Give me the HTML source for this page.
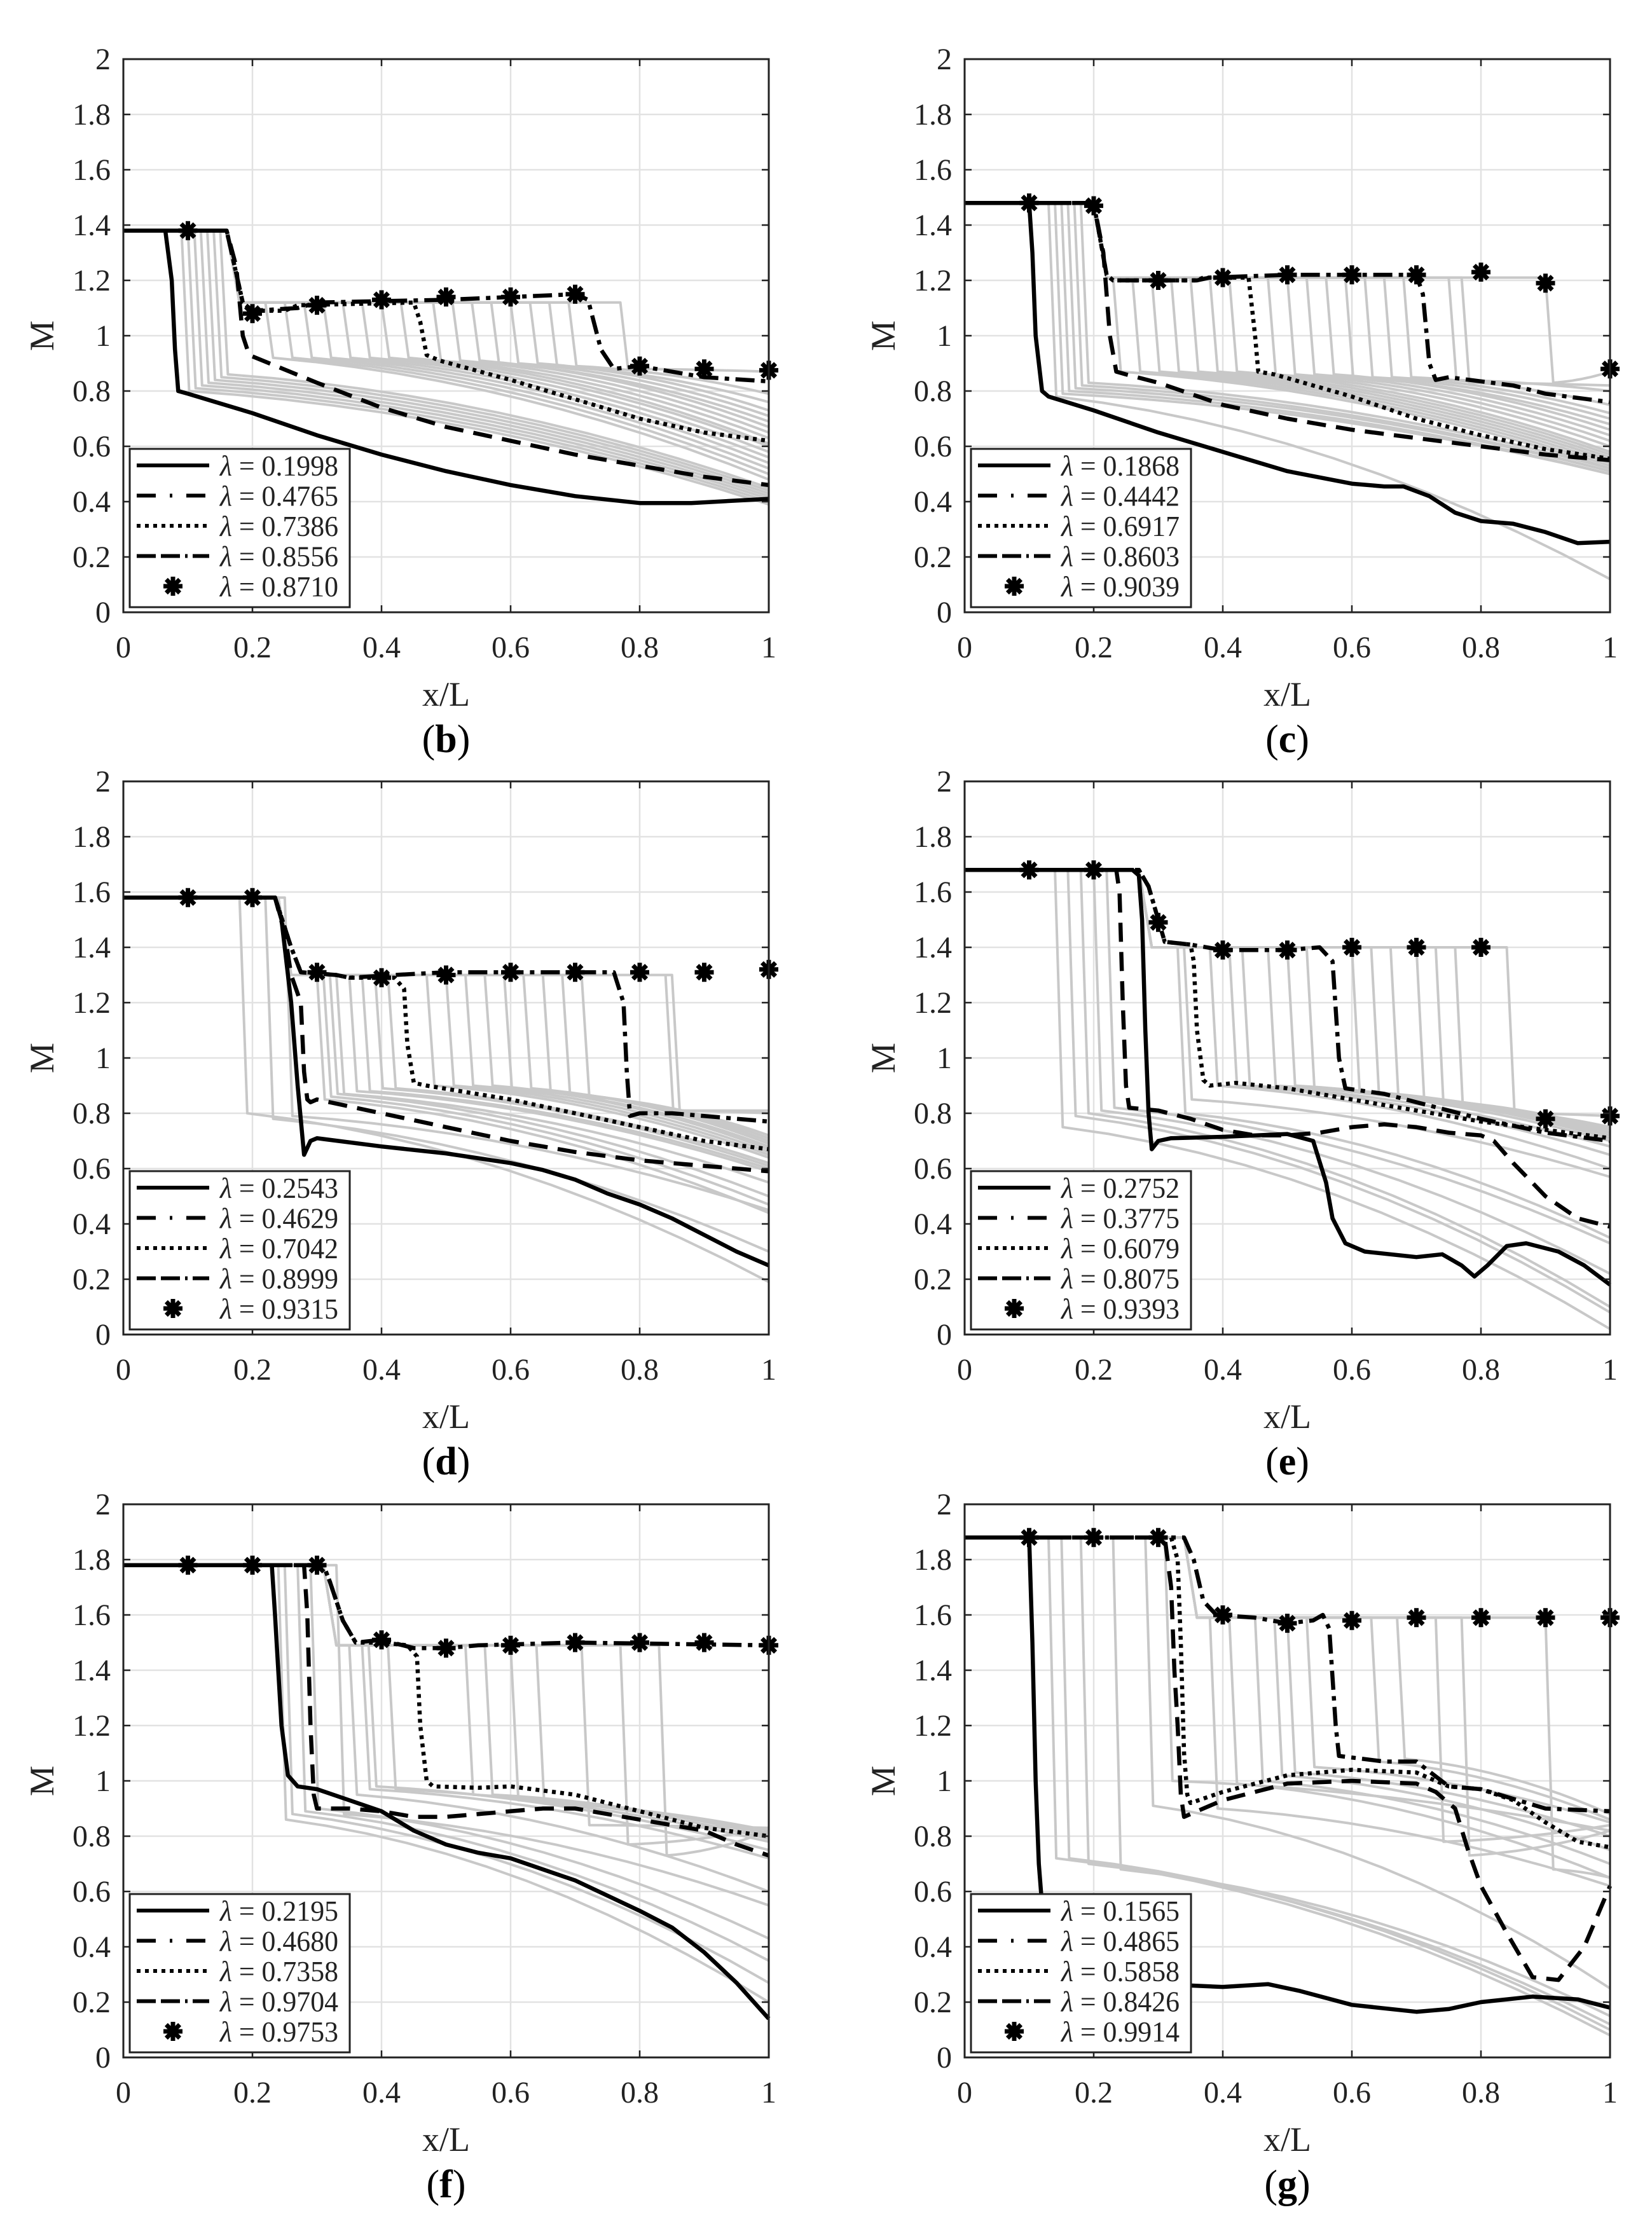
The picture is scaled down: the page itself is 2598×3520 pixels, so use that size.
<!DOCTYPE html>
<html><head><meta charset="utf-8">
<style>
html,body{margin:0;padding:0;background:#fff;}
svg{display:block;font-family:"Liberation Serif",serif;}
</style></head>
<body>
<svg id="fig" width="2598" height="3520" viewBox="0 0 2598 3520" xmlns="http://www.w3.org/2000/svg"></svg>
<script>
// ---------- shared tick labels ----------
const xTicks = [0, 0.2, 0.4, 0.6, 0.8, 1];
const xTickLabels = ["0", "0.2", "0.4", "0.6", "0.8", "1"];
const yTicks = [0, 0.2, 0.4, 0.6, 0.8, 1, 1.2, 1.4, 1.6, 1.8, 2];
const yTickLabels = ["0", "0.2", "0.4", "0.6", "0.8", "1", "1.2", "1.4", "1.6", "1.8", "2"];
const starX = [0.1, 0.2, 0.3, 0.4, 0.5, 0.6, 0.7, 0.8, 0.9, 1.0];

// ---------- panel names / legend ----------
const panelIds = ["b", "c", "d", "e", "f", "g"];
const lambdaB = ["0.1998", "0.4765", "0.7386", "0.8556", "0.8710"];
const lambdaC = ["0.1868", "0.4442", "0.6917", "0.8603", "0.9039"];
const lambdaD = ["0.2543", "0.4629", "0.7042", "0.8999", "0.9315"];
const lambdaE = ["0.2752", "0.3775", "0.6079", "0.8075", "0.9393"];
const lambdaF = ["0.2195", "0.4680", "0.7358", "0.9704", "0.9753"];
const lambdaG = ["0.1565", "0.4865", "0.5858", "0.8426", "0.9914"];

// ---------- inlet Mach, first drop position, plateau ----------
const inletM = [1.38, 1.48, 1.58, 1.68, 1.78, 1.88];
const firstDropX = [0.16, 0.2, 0.24, 0.27, 0.31, 0.34];
const plateauM = [1.12, 1.21, 1.30, 1.40, 1.49, 1.59];

// ---------- panel (b) ----------
const bSolid = [[0,1.38],[0.065,1.38],[0.075,1.2],[0.08,0.95],[0.085,0.8],[0.1,0.79],[0.2,0.72],[0.3,0.64],[0.4,0.57],[0.5,0.51],[0.6,0.46],[0.7,0.42],[0.8,0.395],[0.88,0.395],[1,0.41]];
const bDashed = [[0,1.38],[0.16,1.38],[0.175,1.25],[0.185,1.0],[0.195,0.93],[0.3,0.83],[0.4,0.74],[0.5,0.67],[0.6,0.62],[0.7,0.57],[0.8,0.53],[0.9,0.49],[1,0.46]];
const bDotted = [[0,1.38],[0.16,1.38],[0.185,1.12],[0.2,1.09],[0.25,1.09],[0.27,1.11],[0.45,1.12],[0.46,1.05],[0.47,0.93],[0.49,0.91],[0.6,0.84],[0.7,0.77],[0.8,0.7],[0.9,0.65],[1,0.62]];
const bDashDot = [[0,1.38],[0.16,1.38],[0.185,1.12],[0.2,1.09],[0.27,1.1],[0.3,1.12],[0.5,1.13],[0.7,1.15],[0.72,1.13],[0.74,0.95],[0.76,0.88],[0.8,0.89],[0.9,0.85],[1,0.835]];
const bStars = [1.38,1.08,1.11,1.13,1.14,1.14,1.15,0.89,0.88,0.875];
const bGrayShock = [0.09,0.1,0.11,0.12,0.13,0.14,0.15,0.22,0.25,0.28,0.31,0.34,0.37,0.4,0.43,0.48,0.51,0.54,0.57,0.6,0.63,0.66,0.69,0.77];
const bGrayPost = [0.8,0.81,0.82,0.83,0.84,0.85,0.86,0.92,0.92,0.92,0.92,0.92,0.92,0.92,0.92,0.91,0.91,0.91,0.9,0.9,0.9,0.89,0.89,0.88];
const bGrayEnd = [0.39,0.4,0.41,0.42,0.43,0.44,0.45,0.48,0.5,0.52,0.54,0.56,0.58,0.6,0.61,0.63,0.65,0.67,0.69,0.71,0.73,0.76,0.79,0.87];

// ---------- panel (c) ----------
const cSolid = [[0,1.48],[0.1,1.48],[0.105,1.3],[0.11,1.0],[0.12,0.8],[0.13,0.78],[0.2,0.73],[0.3,0.65],[0.4,0.58],[0.5,0.51],[0.6,0.465],[0.65,0.455],[0.68,0.455],[0.72,0.42],[0.76,0.36],[0.8,0.33],[0.85,0.32],[0.9,0.29],[0.95,0.25],[1,0.255]];
const cDashed = [[0,1.48],[0.2,1.48],[0.215,1.3],[0.225,1.0],[0.235,0.87],[0.25,0.86],[0.3,0.83],[0.4,0.75],[0.5,0.7],[0.6,0.66],[0.7,0.63],[0.8,0.6],[0.9,0.57],[1,0.55]];
const cDotted = [[0,1.48],[0.2,1.48],[0.22,1.22],[0.23,1.2],[0.36,1.2],[0.37,1.21],[0.44,1.21],[0.45,1.0],[0.455,0.87],[0.48,0.86],[0.6,0.78],[0.7,0.7],[0.8,0.64],[0.9,0.59],[1,0.555]];
const cDashDot = [[0,1.48],[0.2,1.48],[0.22,1.22],[0.23,1.2],[0.36,1.2],[0.38,1.21],[0.5,1.22],[0.7,1.22],[0.71,1.15],[0.72,0.9],[0.73,0.84],[0.75,0.85],[0.85,0.82],[0.9,0.79],[1,0.76]];
const cStars = [1.48,1.47,1.2,1.21,1.22,1.22,1.22,1.23,1.19,0.88];
const cGrayShock = [0.13,0.14,0.15,0.16,0.17,0.18,0.23,0.26,0.29,0.32,0.35,0.38,0.41,0.47,0.5,0.53,0.56,0.59,0.62,0.65,0.68,0.75,0.77,0.9];
const cGrayPost = [0.78,0.79,0.8,0.81,0.82,0.83,0.87,0.87,0.87,0.87,0.87,0.87,0.87,0.86,0.86,0.86,0.86,0.85,0.85,0.85,0.85,0.84,0.83,0.83];
const cGrayEnd = [0.12,0.5,0.5,0.51,0.51,0.52,0.52,0.53,0.54,0.55,0.56,0.57,0.58,0.6,0.62,0.64,0.66,0.68,0.7,0.72,0.75,0.8,0.82,0.87];

// ---------- panel (d) ----------
const dSolid = [[0,1.58],[0.235,1.58],[0.245,1.5],[0.26,1.2],[0.27,0.9],[0.28,0.65],[0.29,0.7],[0.3,0.71],[0.4,0.68],[0.5,0.655],[0.6,0.62],[0.65,0.595],[0.7,0.56],[0.75,0.51],[0.8,0.47],[0.85,0.42],[0.9,0.36],[0.95,0.3],[1,0.25]];
const dDashed = [[0,1.58],[0.235,1.58],[0.25,1.45],[0.26,1.3],[0.275,1.2],[0.28,0.95],[0.285,0.85],[0.29,0.84],[0.3,0.85],[0.4,0.8],[0.5,0.75],[0.6,0.7],[0.7,0.66],[0.8,0.63],[0.9,0.61],[1,0.59]];
const dDotted = [[0,1.58],[0.235,1.58],[0.26,1.4],[0.275,1.31],[0.33,1.3],[0.35,1.29],[0.42,1.29],[0.435,1.25],[0.44,1.05],[0.45,0.91],[0.47,0.9],[0.6,0.85],[0.7,0.8],[0.8,0.75],[0.9,0.7],[1,0.67]];
const dDashDot = [[0,1.58],[0.235,1.58],[0.26,1.4],[0.275,1.31],[0.33,1.3],[0.35,1.29],[0.42,1.3],[0.5,1.31],[0.76,1.31],[0.775,1.2],[0.78,0.95],[0.785,0.79],[0.8,0.8],[0.85,0.8],[0.9,0.79],[1,0.77]];
const dStars = [1.58,1.58,1.31,1.29,1.3,1.31,1.31,1.31,1.31,1.32];
const dGrayShock = [0.18,0.22,0.25,0.3,0.31,0.32,0.33,0.35,0.37,0.39,0.41,0.47,0.5,0.53,0.56,0.59,0.62,0.65,0.68,0.71,0.84,0.85];
const dGrayPost = [0.8,0.78,0.79,0.85,0.86,0.87,0.87,0.88,0.88,0.89,0.89,0.9,0.9,0.9,0.9,0.89,0.89,0.88,0.87,0.86,0.81,0.81];
const dGrayEnd = [0.19,0.3,0.45,0.44,0.47,0.5,0.55,0.59,0.6,0.61,0.62,0.64,0.65,0.66,0.67,0.68,0.69,0.7,0.71,0.72,0.8,0.81];

// ---------- panel (e) ----------
const eSolid = [[0,1.68],[0.26,1.68],[0.27,1.66],[0.275,1.5],[0.28,1.1],[0.285,0.8],[0.29,0.67],[0.3,0.7],[0.32,0.71],[0.4,0.715],[0.5,0.725],[0.54,0.7],[0.56,0.55],[0.57,0.42],[0.59,0.33],[0.62,0.3],[0.7,0.28],[0.74,0.29],[0.77,0.25],[0.79,0.21],[0.81,0.25],[0.84,0.32],[0.87,0.33],[0.92,0.3],[0.96,0.25],[1,0.18]];
const eDashed = [[0,1.68],[0.235,1.68],[0.24,1.6],[0.245,1.2],[0.25,0.9],[0.255,0.82],[0.3,0.81],[0.35,0.78],[0.4,0.74],[0.45,0.72],[0.5,0.72],[0.55,0.73],[0.6,0.75],[0.65,0.76],[0.7,0.75],[0.75,0.73],[0.8,0.72],[0.82,0.7],[0.85,0.62],[0.9,0.5],[0.95,0.42],[1,0.39]];
const eDotted = [[0,1.68],[0.27,1.68],[0.285,1.62],[0.3,1.5],[0.31,1.42],[0.35,1.41],[0.355,1.35],[0.36,1.1],[0.37,0.92],[0.38,0.9],[0.42,0.91],[0.5,0.89],[0.6,0.85],[0.7,0.81],[0.8,0.77],[0.9,0.74],[1,0.71]];
const eDashDot = [[0,1.68],[0.27,1.68],[0.285,1.62],[0.3,1.5],[0.31,1.42],[0.35,1.41],[0.4,1.39],[0.5,1.39],[0.55,1.4],[0.57,1.35],[0.58,1.0],[0.59,0.89],[0.65,0.87],[0.7,0.84],[0.75,0.81],[0.8,0.78],[0.9,0.73],[1,0.7]];
const eStars = [1.68,1.68,1.49,1.39,1.39,1.4,1.4,1.4,0.78,0.79];
const eGrayShock = [0.14,0.16,0.18,0.2,0.22,0.33,0.34,0.38,0.41,0.43,0.47,0.5,0.53,0.6,0.63,0.66,0.7,0.73,0.76,0.84];
const eGrayPost = [0.75,0.79,0.8,0.81,0.82,0.8,0.85,0.9,0.9,0.9,0.9,0.9,0.89,0.88,0.87,0.86,0.85,0.83,0.82,0.8];
const eGrayEnd = [0.02,0.08,0.1,0.22,0.33,0.35,0.57,0.6,0.65,0.68,0.7,0.71,0.72,0.72,0.73,0.73,0.74,0.74,0.75,0.79];

// ---------- panel (f) ----------
const fSolid = [[0,1.78],[0.23,1.78],[0.235,1.6],[0.245,1.2],[0.255,1.02],[0.27,0.98],[0.3,0.97],[0.35,0.93],[0.4,0.89],[0.45,0.82],[0.5,0.77],[0.55,0.74],[0.6,0.72],[0.7,0.64],[0.8,0.53],[0.85,0.47],[0.9,0.38],[0.95,0.27],[1,0.14]];
const fDashed = [[0,1.78],[0.28,1.78],[0.285,1.6],[0.29,1.2],[0.295,0.95],[0.3,0.9],[0.35,0.9],[0.4,0.89],[0.45,0.87],[0.5,0.87],[0.55,0.88],[0.6,0.89],[0.65,0.9],[0.7,0.9],[0.8,0.86],[0.9,0.82],[0.95,0.77],[1,0.73]];
const fDotted = [[0,1.78],[0.31,1.78],[0.32,1.72],[0.34,1.58],[0.36,1.5],[0.4,1.5],[0.44,1.49],[0.455,1.45],[0.46,1.2],[0.47,1.0],[0.48,0.98],[0.55,0.975],[0.6,0.98],[0.7,0.95],[0.8,0.89],[0.9,0.83],[1,0.8]];
const fDashDot = [[0,1.78],[0.31,1.78],[0.32,1.72],[0.34,1.58],[0.36,1.5],[0.4,1.51],[0.45,1.48],[0.5,1.48],[0.55,1.49],[0.7,1.5],[1,1.49]];
const fStars = [1.78,1.78,1.78,1.51,1.48,1.49,1.5,1.5,1.5,1.49];
const fGrayShock = [0.24,0.25,0.27,0.29,0.33,0.35,0.37,0.38,0.41,0.53,0.56,0.6,0.64,0.71,0.77,0.83];
const fGrayPost = [0.86,0.88,0.89,0.9,0.88,0.95,0.97,0.98,0.97,0.95,0.95,0.93,0.92,0.84,0.77,0.73];
const fGrayEnd = [0.2,0.27,0.35,0.43,0.55,0.6,0.72,0.75,0.78,0.79,0.8,0.81,0.82,0.83,0.83,0.82];

// ---------- panel (g) ----------
const gSolid = [[0,1.88],[0.1,1.88],[0.105,1.5],[0.11,1.0],[0.115,0.7],[0.12,0.55],[0.13,0.43],[0.15,0.36],[0.2,0.33],[0.3,0.29],[0.35,0.26],[0.4,0.255],[0.47,0.265],[0.52,0.24],[0.6,0.19],[0.7,0.165],[0.75,0.175],[0.8,0.2],[0.88,0.22],[0.95,0.21],[1,0.18]];
const gDashed = [[0,1.88],[0.31,1.88],[0.32,1.7],[0.325,1.4],[0.33,1.2],[0.335,0.95],[0.34,0.87],[0.36,0.89],[0.4,0.93],[0.5,0.99],[0.6,1.0],[0.7,0.99],[0.73,0.96],[0.76,0.9],[0.78,0.75],[0.8,0.62],[0.84,0.45],[0.88,0.29],[0.92,0.28],[0.96,0.4],[1,0.62]];
const gDotted = [[0,1.88],[0.32,1.88],[0.33,1.8],[0.335,1.5],[0.34,1.1],[0.345,0.95],[0.35,0.92],[0.4,0.96],[0.5,1.02],[0.6,1.04],[0.7,1.03],[0.75,0.98],[0.8,0.97],[0.85,0.93],[0.9,0.85],[0.95,0.78],[1,0.76]];
const gDashDot = [[0,1.88],[0.34,1.88],[0.355,1.8],[0.37,1.65],[0.39,1.6],[0.45,1.59],[0.5,1.57],[0.54,1.58],[0.555,1.6],[0.565,1.55],[0.575,1.2],[0.58,1.09],[0.65,1.07],[0.7,1.07],[0.75,0.98],[0.8,0.97],[0.9,0.9],[1,0.89]];
const gStars = [1.88,1.88,1.88,1.6,1.57,1.58,1.59,1.59,1.59,1.59];
const gGrayShock = [0.13,0.15,0.18,0.23,0.28,0.31,0.38,0.41,0.45,0.48,0.5,0.53,0.63,0.67,0.73,0.77,0.9];
const gGrayPost = [0.72,0.72,0.7,0.68,0.91,1.0,0.9,0.99,1.0,1.02,1.03,1.05,1.07,1.08,0.78,0.73,0.68];
const gGrayEnd = [0.08,0.1,0.12,0.15,0.25,0.82,0.62,0.65,0.7,0.75,0.8,0.85,0.86,0.88,0.84,0.82,0.65];

const panelLambda = [lambdaB, lambdaC, lambdaD, lambdaE, lambdaF, lambdaG];
const panelSolid = [bSolid, cSolid, dSolid, eSolid, fSolid, gSolid];
const panelDashed = [bDashed, cDashed, dDashed, eDashed, fDashed, gDashed];
const panelDotted = [bDotted, cDotted, dDotted, eDotted, fDotted, gDotted];
const panelDashDot = [bDashDot, cDashDot, dDashDot, eDashDot, fDashDot, gDashDot];
const panelStars = [bStars, cStars, dStars, eStars, fStars, gStars];
const panelGrayShock = [bGrayShock, cGrayShock, dGrayShock, eGrayShock, fGrayShock, gGrayShock];
const panelGrayPost = [bGrayPost, cGrayPost, dGrayPost, eGrayPost, fGrayPost, gGrayPost];
const panelGrayEnd = [bGrayEnd, cGrayEnd, dGrayEnd, eGrayEnd, fGrayEnd, gGrayEnd];

// ---------- layout ----------
const NS = "http://www.w3.org/2000/svg";
const svg = document.getElementById("fig");
const colLeft = [194, 1517];
const rowTop = [93, 1229, 2366];
const AW = 1015, AH = 870;

function mk(tag, attrs, parent) {
  const e = document.createElementNS(NS, tag);
  for (const k in attrs) e.setAttribute(k, attrs[k]);
  parent.appendChild(e);
  return e;
}

function grayCurve(M0, x1, P, s, post, end) {
  const pts = [[0, M0]];
  if (s > x1 + 0.02) {
    pts.push([x1, M0]); pts.push([x1 + 0.02, P]); pts.push([s, P]);
  } else {
    pts.push([s, M0]);
  }
  const s2 = s + 0.012;
  pts.push([s2, post]);
  const n = 12;
  for (let i = 1; i <= n; i++) {
    const t = i / n;
    const x = s2 + (1 - s2) * t;
    const y = post + (end - post) * (0.35 * t + 0.65 * t * t);
    pts.push([x, y]);
  }
  return pts;
}

panelIds.forEach((pid, p) => {
  const L = colLeft[p % 2], T = rowTop[Math.floor(p / 2)];
  const sx = v => L + v * AW;
  const sy = v => T + AH - (v / 2) * AH;
  const g = mk("g", {}, svg);
  
  

  // grid
  const grid = mk("g", {stroke: "#e2e2e2", "stroke-width": 2.5}, g);
  
  
  xTicks.forEach(v => mk("line", {x1: sx(v), x2: sx(v), y1: T, y2: T + AH}, grid));
  yTicks.forEach(v => mk("line", {x1: L, x2: L + AW, y1: sy(v), y2: sy(v)}, grid));

  const toPath = pts => pts.map((q, i) => (i ? "L" : "M") + sx(q[0]).toFixed(1) + "," + sy(q[1]).toFixed(1)).join(" ");

  // gray curves
  const gg = mk("g", {fill: "none", stroke: "#c8c8c8", "stroke-width": 4, "stroke-linejoin": "round"}, g);
  
  
  panelGrayShock[p].forEach((s, i) => {
    const pts = grayCurve(inletM[p], firstDropX[p], plateauM[p], s, panelGrayPost[p][i], panelGrayEnd[p][i]);
    const pe = mk("path", {d: toPath(pts)}, gg);
    
    
  });

  // black series
  const series = [
    [panelSolid[p], "none", "solid-line"],
    [panelDashed[p], "30 16", "dashed-line"],
    [panelDotted[p], "6 7", "dotted-line"],
    [panelDashDot[p], "30 10 7 10", "dash-dot-line"]
  ];
  series.forEach(sr => {
    const pe = mk("path", {d: toPath(sr[0]), fill: "none", stroke: "#000", "stroke-width": 6.5, "stroke-dasharray": sr[1], "stroke-linejoin": "round"}, g);
    
    
  });

  const star = (cx, cy, parent) => {
    const r = 15;
    let d = "";
    for (let k = 0; k < 4; k++) {
      const a = k * Math.PI / 4;
      d += "M" + (cx - r * Math.cos(a)).toFixed(1) + "," + (cy - r * Math.sin(a)).toFixed(1) + "L" + (cx + r * Math.cos(a)).toFixed(1) + "," + (cy + r * Math.sin(a)).toFixed(1);
    }
    const s = mk("path", {d: d, stroke: "#000", "stroke-width": 7}, parent);
    mk("circle", {cx: cx, cy: cy, r: 7, fill: "#000"}, parent);
    
    
  };
  panelStars[p].forEach((v, i) => star(sx(starX[i]), sy(v), g));

  // axes box and ticks
  const box = mk("rect", {x: L, y: T, width: AW, height: AH, fill: "none", stroke: "#222", "stroke-width": 3}, g);
  
  
  const tk = mk("g", {stroke: "#222", "stroke-width": 2.5}, g);
  xTicks.forEach(v => { mk("line", {x1: sx(v), x2: sx(v), y1: T + AH, y2: T + AH - 11}, tk); mk("line", {x1: sx(v), x2: sx(v), y1: T, y2: T + 11}, tk); });
  yTicks.forEach(v => { mk("line", {x1: L, x2: L + 11, y1: sy(v), y2: sy(v)}, tk); mk("line", {x1: L + AW, x2: L + AW - 11, y1: sy(v), y2: sy(v)}, tk); });

  // tick labels
  xTicks.forEach((v, i) => {
    const t = mk("text", {x: sx(v), y: T + AH + 71, "font-size": 48, "text-anchor": "middle", fill: "#222"}, g);
    t.textContent = xTickLabels[i];
    
    
  });
  yTicks.forEach((v, i) => {
    const t = mk("text", {x: L - 20, y: sy(v) + 16, "font-size": 48, "text-anchor": "end", fill: "#222"}, g);
    t.textContent = yTickLabels[i];
    
    
  });

  const xt = mk("text", {x: L + AW / 2, y: T + AH + 147, "font-size": 54, "text-anchor": "middle", fill: "#222"}, g);
  xt.textContent = "x/L";
  
  
  const yt = mk("text", {x: 0, y: 0, "font-size": 54, "text-anchor": "middle", fill: "#222", transform: "translate(" + (L - 110) + "," + (T + AH / 2) + ") rotate(-90)"}, g);
  yt.textContent = "M";
  
  
  const pl = mk("text", {x: L + AW / 2, y: T + 1090, "font-size": 62, "text-anchor": "middle", fill: "#000"}, g);
  pl.innerHTML = '(<tspan font-weight="bold">' + pid + '</tspan>)';
  
  

  // legend
  const lx = L + 10, lh = 249, ly = T + AH - 8 - lh, lw = 346;
  const lg = mk("g", {}, g);
  
  
  mk("rect", {x: lx, y: ly, width: lw, height: lh, fill: "#fff", stroke: "#222", "stroke-width": 3}, lg);
  const dashes = ["none", "30 22 4 22", "6 7", "30 8 30 8 4 8"];
  panelLambda[p].forEach((lam, i) => {
    const cy = ly + 26 + i * 47.5;
    const ent = mk("g", {}, lg);
    
    
    if (i < 4) {
      mk("line", {x1: lx + 11, x2: lx + 125, y1: cy, y2: cy, stroke: "#000", "stroke-width": 6, "stroke-dasharray": dashes[i]}, ent);
    } else {
      star(lx + 68, cy, ent);
    }
    const t = mk("text", {x: lx + 142, y: cy + 16, "font-size": 46, fill: "#222", "xml:space": "preserve", textLength: 186, lengthAdjust: "spacingAndGlyphs"}, ent);
    t.innerHTML = '<tspan font-style="italic">λ</tspan>  =  ' + lam;
  });
});
</script>
</body></html>
